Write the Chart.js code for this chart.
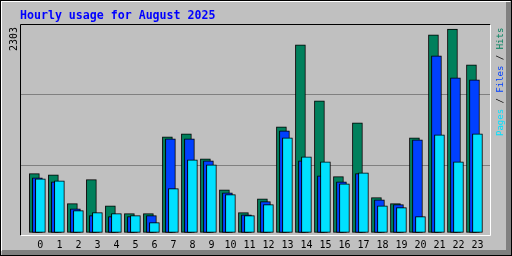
<!DOCTYPE html>
<html lang="en">
<head>
    <meta charset="UTF-8">
    <title>Hourly usage for August 2025</title>
    <script src="https://cdn.jsdelivr.net/npm/chart.js"></script>
    <style>
        html, body { margin: 0; padding: 0; background: #c0c0c0; }
        #wrap { width: 512px; height: 256px; }
    </style>
</head>
<body>
    <div id="wrap"><canvas id="hourlyChart" width="512" height="256"></canvas></div>

    <script>
        // Hourly data
        const hours = [0, 1, 2, 3, 4, 5, 6, 7, 8, 9, 10, 11, 12, 13, 14, 15, 16, 17, 18, 19, 20, 21, 22, 23];
        const hits  = [665, 653, 325, 597, 302, 212, 212, 1083, 1117, 834, 483, 223, 381, 1197, 2125, 1491, 631, 1242, 393, 325, 1072, 2238, 2303, 1898];
        const files = [619, 574, 268, 189, 178, 178, 189, 1061, 1061, 812, 449, 200, 348, 1151, 812, 642, 574, 665, 370, 314, 1049, 2000, 1751, 1729];
        const pages = [608, 585, 246, 223, 212, 189, 110, 495, 823, 766, 427, 189, 314, 1072, 857, 800, 551, 676, 302, 280, 178, 1106, 800, 1117];
        const maxLabel = '2303';
        const title = 'Hourly usage for August 2025';

        const HIT_COLOR = '#00805c';
        const FILE_COLOR = '#0040ff';
        const PAGE_COLOR = '#00e0ff';

        const Y_MIN = -30, Y_MAX = 2350;

        function points(values, shift) {
            return hours.map((h, i) => ({ x: h + shift, y: values[i] }));
        }

        // Frame, title and side labels
        const decor = {
            id: 'decor',
            beforeDraw(chart) {
                const c = chart.ctx;
                c.save();
                c.fillStyle = '#c0c0c0';
                c.fillRect(0, 0, 512, 256);
                // bevel
                c.fillStyle = '#808080';
                c.fillRect(2, 250, 509, 5);
                c.fillRect(506, 2, 5, 253);
                c.fillStyle = '#ffffff';
                c.fillRect(1, 1, 509, 1);
                c.fillRect(1, 1, 1, 250);
                c.strokeStyle = '#000000';
                c.lineWidth = 1;
                c.strokeRect(0.5, 0.5, 511, 255);
                c.restore();
            },
            afterDraw(chart) {
                const c = chart.ctx;
                const a = chart.chartArea;
                c.save();
                // plot frame
                c.lineWidth = 1;
                c.strokeStyle = '#000000';
                c.beginPath();
                c.moveTo(a.left - 0.5, a.bottom + 0.5);
                c.lineTo(a.left - 0.5, a.top - 0.5);
                c.lineTo(a.right + 0.5, a.top - 0.5);
                c.stroke();
                c.strokeStyle = '#ffffff';
                c.beginPath();
                c.moveTo(a.right + 0.5, a.top - 0.5);
                c.lineTo(a.right + 0.5, a.bottom + 0.5);
                c.lineTo(a.left - 0.5, a.bottom + 0.5);
                c.stroke();

                // title
                c.fillStyle = '#0000ff';
                c.font = 'bold 11.6px "DejaVu Sans Mono"';
                c.textAlign = 'left';
                c.textBaseline = 'alphabetic';
                c.fillText(title, 20, 19);

                // max value, vertical
                c.save();
                c.translate(14.7, 51);
                c.rotate(-Math.PI / 2);
                c.fillStyle = '#000000';
                c.font = '10px "DejaVu Sans Mono"';
                c.textBaseline = 'middle';
                c.fillText(maxLabel, 0, 0);
                c.restore();

                // legend, vertical
                c.save();
                c.translate(500.5, 136);
                c.rotate(-Math.PI / 2);
                c.font = '9px "DejaVu Sans Mono"';
                c.textBaseline = 'middle';
                const parts = [['Pages', PAGE_COLOR], [' / ', '#000000'], ['Files', FILE_COLOR], [' / ', '#000000'], ['Hits', HIT_COLOR]];
                let x = 0;
                parts.forEach(p => {
                    c.fillStyle = p[1];
                    c.fillText(p[0], x, 0);
                    x += c.measureText(p[0]).width;
                });
                c.restore();
                c.restore();
            }
        };

        const barStyle = {
            borderColor: '#000000',
            borderWidth: 1,
            borderSkipped: false,
            barThickness: 10,
            grouped: false
        };

        const ctx = document.getElementById('hourlyChart').getContext('2d');
        const chart = new Chart(ctx, {
            type: 'bar',
            data: {
                datasets: [
                    Object.assign({ label: 'Pages', data: points(pages, 0), backgroundColor: PAGE_COLOR }, barStyle),
                    Object.assign({ label: 'Files', data: points(files, -0.158), backgroundColor: FILE_COLOR }, barStyle),
                    Object.assign({ label: 'Hits', data: points(hits, -0.316), backgroundColor: HIT_COLOR }, barStyle)
                ]
            },
            options: {
                responsive: false,
                animation: false,
                events: [],
                layout: { padding: { top: 25, left: 21, right: 22, bottom: 0 } },
                plugins: {
                    legend: { display: false },
                    tooltip: { enabled: false }
                },
                scales: {
                    x: {
                        type: 'linear',
                        min: -1.02,
                        max: 23.66,
                        offset: false,
                        afterBuildTicks: s => { s.ticks = hours.map(h => ({ value: h })); },
                        afterFit: s => { s.height = 21; },
                        grid: { display: false, drawTicks: false },
                        border: { display: false },
                        ticks: {
                            padding: 4,
                            maxRotation: 0,
                            autoSkip: false,
                            color: '#000000',
                            font: { family: 'DejaVu Sans Mono', size: 10 },
                            callback: v => String(v)
                        }
                    },
                    y: {
                        min: Y_MIN,
                        max: Y_MAX,
                        afterBuildTicks: s => {
                            const r = (Y_MAX - Y_MIN) / 3;
                            s.ticks = [{ value: Y_MIN + r }, { value: Y_MIN + 2 * r }];
                        },
                        afterFit: s => { s.width = 0; },
                        grid: { color: '#808080', lineWidth: 1, drawTicks: false },
                        border: { display: false },
                        ticks: { display: false }
                    }
                }
            },
            plugins: [decor]
        });
    </script>
</body>
</html>
